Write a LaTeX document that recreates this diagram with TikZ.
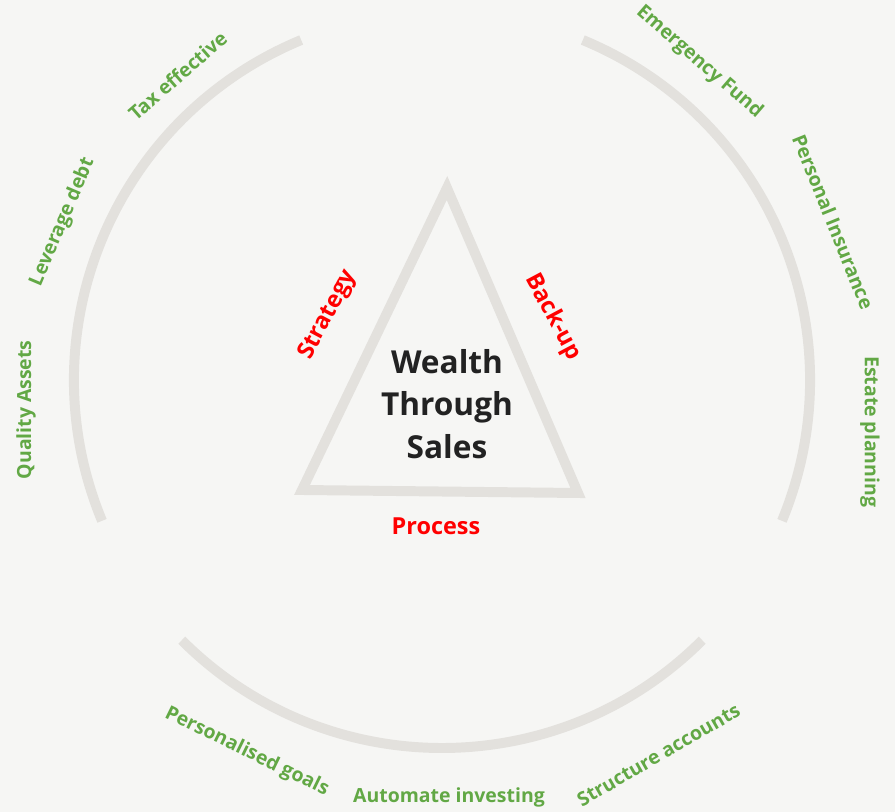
\documentclass[tikz,border=0pt]{standalone}
\usepackage{fontspec}
\setmainfont{Open Sans}
\definecolor{paper}{HTML}{F6F6F4}
\definecolor{rimgray}{HTML}{E3E1DD}
\definecolor{leafgreen}{HTML}{62A845}
\definecolor{inkdark}{HTML}{222222}
\begin{document}
\begin{tikzpicture}[scale=0.03,
    rim/.style={draw=rimgray, line width=8.5pt},
    pillar/.style={font=\fontsize{16.6}{19}\selectfont\bfseries, text=leafgreen, inner sep=0pt},
    side/.style={font=\fontsize{20}{24}\selectfont\bfseries, text=red, inner sep=0pt}]
    \useasboundingbox (-442,-432) rectangle (453,380);
    \fill[paper] (-442,-432) rectangle (453,380);
    % outer ring in three pieces
    \draw[rim] (112.5:368) arc [start angle=112.5, end angle=202.5, radius=368];
    \draw[rim] (-22.5:368) arc [start angle=-22.5, end angle=67.5, radius=368];
    \draw[rim] (225:368) arc [start angle=225, end angle=315, radius=368];
    % triangle
    \coordinate (apex) at (5,192);
    \coordinate (left) at (-140,-110);
    \coordinate (right) at (136,-113);
    \draw[rim, line join=miter] (apex) -- (left) -- (right) -- cycle;
    \node[align=center, text=inkdark, font=\fontsize{27}{36}\selectfont\bfseries] (core) at (5,-24) {Wealth\\Through\\Sales};
    \node[side, rotate=62] (strategy) at (-114,65) {Strategy};
    \node[side, rotate=-62] (backup) at (111,63) {Back-up};
    \node[side] (process) at (-6,-146) {Process};
    % labels round the ring
    \node[pillar, rotate=41] (tax) at (131:403) {Tax effective};
    \node[pillar, rotate=67] (leverage) at (157.4:411) {Leverage debt};
    \node[pillar, rotate=90] (quality) at (184.1:417) {Quality Assets};
    \node[pillar, rotate=-41] (emergency) at (51:409) {Emergency Fund};
    \node[pillar, rotate=-68] (insurance) at (22:422) {Personal Insurance};
    \node[pillar, rotate=-90] (estate) at (-6.9:431) {Estate planning};
    \node[pillar, rotate=-26] (goals) at (242.3:420) {Personalised goals};
    \node[pillar] (automate) at (7,-417) {Automate investing};
    \node[pillar, rotate=30] (structure) at (300:433) {Structure accounts};
\end{tikzpicture}
\end{document}
